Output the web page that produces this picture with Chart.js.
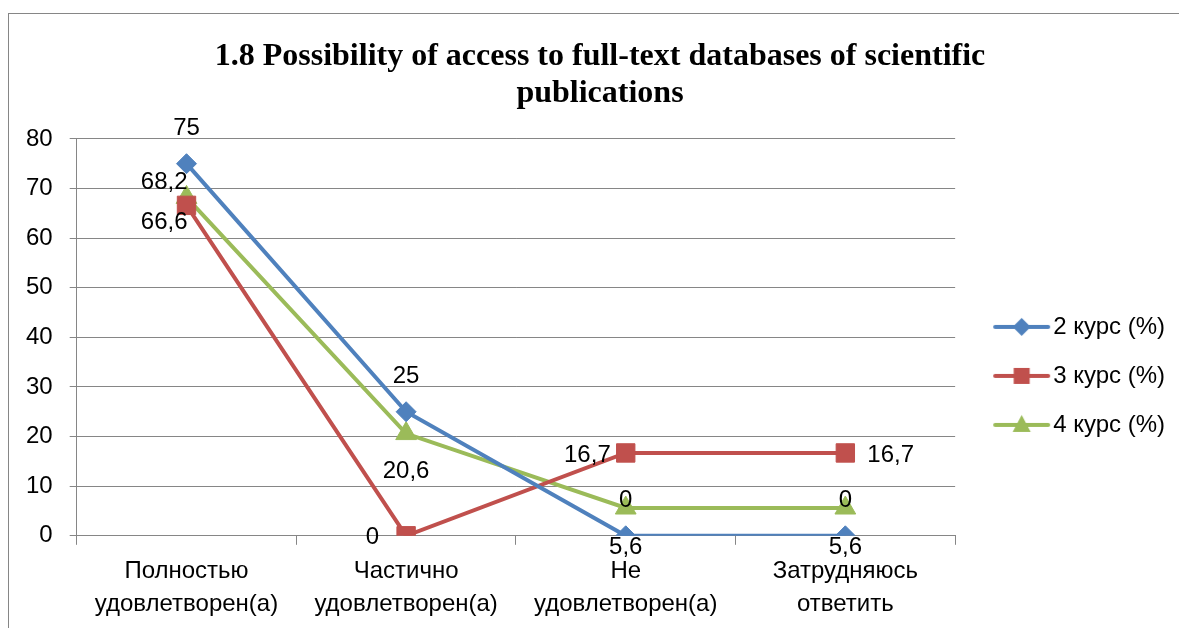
<!DOCTYPE html>
<html>
<head>
<meta charset="utf-8">
<script src="https://cdn.jsdelivr.net/npm/chart.js@4/dist/chart.umd.min.js"></script>
<style>
  html, body { margin: 0; padding: 0; background: #fff; }
  #wrap { width: 1179px; height: 628px; position: relative; }
</style>
</head>
<body>
<div id="wrap"><canvas id="lineChart"></canvas></div>
<script>
// Chart data
const categories = [
  ['Полностью', 'удовлетворен(а)'],
  ['Частично', 'удовлетворен(а)'],
  ['Не', 'удовлетворен(а)'],
  ['Затрудняюсь', 'ответить']
];
const seriesNames = ['2 курс (%)', '3 курс (%)', '4 курс (%)'];
const course2 = [75, 25, 0, 0];
const course3 = [66.6, 0, 16.7, 16.7];
const course4 = [68.2, 20.6, 5.6, 5.6];
// label texts as printed in the source (the 2nd/4th course labels are swapped there at the last two points)
const course2Labels = ['75', '25', '5,6', '5,6'];
const course3Labels = ['66,6', '0', '16,7', '16,7'];
const course4Labels = ['68,2', '20,6', '0', '0'];
const yTicks = { min: 0, max: 80, step: 10 };

const BLUE = '#4F81BD';
const RED = '#C0504D';
const GREEN = '#9BBB59';
const GRID = '#868686';
const FONT = '"Liberation Sans", Arial, sans-serif';

// legend swatch: a short line with the marker on it (left part of the image is empty)
function legendSwatch(color, shape) {
  const c = document.createElement('canvas');
  c.width = 81;
  c.height = 22;
  const ctx = c.getContext('2d');
  const cx = 51.5, cy = 11;
  ctx.strokeStyle = color;
  ctx.fillStyle = color;
  ctx.lineWidth = 4;
  ctx.lineCap = 'round';
  ctx.beginPath();
  ctx.moveTo(25, cy);
  ctx.lineTo(78, cy);
  ctx.stroke();
  ctx.beginPath();
  if (shape === 'diamond') {
    ctx.moveTo(cx, cy - 9); ctx.lineTo(cx + 9, cy); ctx.lineTo(cx, cy + 9); ctx.lineTo(cx - 9, cy);
  } else if (shape === 'square') {
    ctx.rect(cx - 8, cy - 8, 16, 16);
  } else {
    ctx.moveTo(cx, cy - 10); ctx.lineTo(cx + 9, cy + 7); ctx.lineTo(cx - 9, cy + 7);
  }
  ctx.closePath();
  ctx.fill();
  return c;
}

// grey frame of the chart area (runs off the right and bottom edges)
const framePlugin = {
  id: 'frame',
  beforeDraw(chart) {
    const ctx = chart.ctx;
    ctx.save();
    ctx.strokeStyle = GRID;
    ctx.lineWidth = 1;
    ctx.strokeRect(8.5, 13.5, 1400, 1000);
    ctx.restore();
  },
  afterLayout(chart) {
    // title sits a little right of the canvas centre in the source
    if (chart.titleBlock) chart.titleBlock.left += 16;
  }
};

// point labels, placed the way the source has them
const pointLabelPlugin = {
  id: 'pointLabels',
  afterDatasetsDraw(chart) {
    const ctx = chart.ctx;
    ctx.save();
    ctx.font = '24px ' + FONT;
    ctx.fillStyle = '#000';
    ctx.textBaseline = 'middle';
    chart.data.datasets.forEach((ds, i) => {
      const meta = chart.getDatasetMeta(i);
      meta.data.forEach((pt, j) => {
        const p = ds.labelPlace[j];
        ctx.textAlign = p[2];
        ctx.fillText(ds.labelText[j], pt.x + p[0], pt.y + p[1]);
      });
    });
    ctx.restore();
  }
};

const ctxEl = document.getElementById('lineChart');
new Chart(ctxEl, {
  type: 'line',
  data: {
    labels: categories,
    datasets: [
      {
        label: seriesNames[0],
        data: course2,
        labelText: course2Labels,
        labelPlace: [[0, -35, 'center'], [0, -35, 'center'], [0, 12, 'center'], [0, 12, 'center']],
        borderColor: BLUE,
        backgroundColor: BLUE,
        borderWidth: 4,
        pointStyle: 'rectRot',
        pointRadius: 10,
        pointBorderWidth: 1
      },
      {
        label: seriesNames[1],
        data: course3,
        labelText: course3Labels,
        labelPlace: [[1, 17, 'right'], [-27, 2, 'right'], [-15, 2, 'right'], [22, 2, 'left']],
        borderColor: RED,
        backgroundColor: RED,
        borderWidth: 4,
        pointStyle: 'rect',
        pointRadius: 13,
        pointBorderWidth: 1
      },
      {
        label: seriesNames[2],
        data: course4,
        labelText: course4Labels,
        labelPlace: [[1, -15, 'right'], [0, 38, 'center'], [0, -8, 'center'], [0, -8, 'center']],
        borderColor: GREEN,
        backgroundColor: GREEN,
        borderWidth: 4,
        pointStyle: 'triangle',
        pointRadius: 12,
        pointBorderWidth: 1
      }
    ]
  },
  options: {
    responsive: true,
    maintainAspectRatio: false,
    animation: false,
    layout: {
      padding: { top: 13, left: 9, right: 4, bottom: -3 }
    },
    plugins: {
      title: {
        display: true,
        text: ['1.8 Possibility of access to full-text databases of scientific', 'publications'],
        color: '#000',
        font: { family: '"Liberation Serif", "Times New Roman", serif', size: 32, weight: 'bold', lineHeight: 1.17 },
        padding: { top: 25, bottom: 26 }
      },
      legend: {
        position: 'right',
        title: {
          display: true,
          text: ' ',
          font: { family: FONT, size: 24, lineHeight: 1.2 },
          padding: { top: 79, bottom: 0 }
        },
        labels: {
          color: '#000',
          font: { family: FONT, size: 24 },
          usePointStyle: true,
          pointStyleWidth: 61,
          padding: 25,
          generateLabels(chart) {
            const shapes = ['diamond', 'square', 'triangle'];
            return chart.data.datasets.map((ds, i) => ({
              text: ds.label,
              fontColor: '#000',
              pointStyle: legendSwatch(ds.borderColor, shapes[i]),
              fillStyle: ds.borderColor,
              strokeStyle: ds.borderColor,
              lineWidth: 0,
              datasetIndex: i,
              hidden: false
            }));
          }
        }
      },
      tooltip: { enabled: false }
    },
    scales: {
      x: {
        offset: true,
        grid: {
          offset: true,
          drawOnChartArea: false,
          color: GRID,
          tickLength: 9
        },
        border: { color: GRID, width: 1 },
        ticks: {
          color: '#000',
          padding: 9.5,
          maxRotation: 0,
          font: { family: FONT, size: 24, lineHeight: 1.4 }
        }
      },
      y: {
        min: yTicks.min,
        max: yTicks.max,
        grid: {
          color: GRID,
          tickLength: 7
        },
        border: { color: GRID, width: 1 },
        ticks: {
          stepSize: yTicks.step,
          color: '#000',
          padding: 17,
          font: { family: FONT, size: 24 }
        }
      }
    }
  },
  plugins: [framePlugin, pointLabelPlugin]
});
</script>
</body>
</html>
